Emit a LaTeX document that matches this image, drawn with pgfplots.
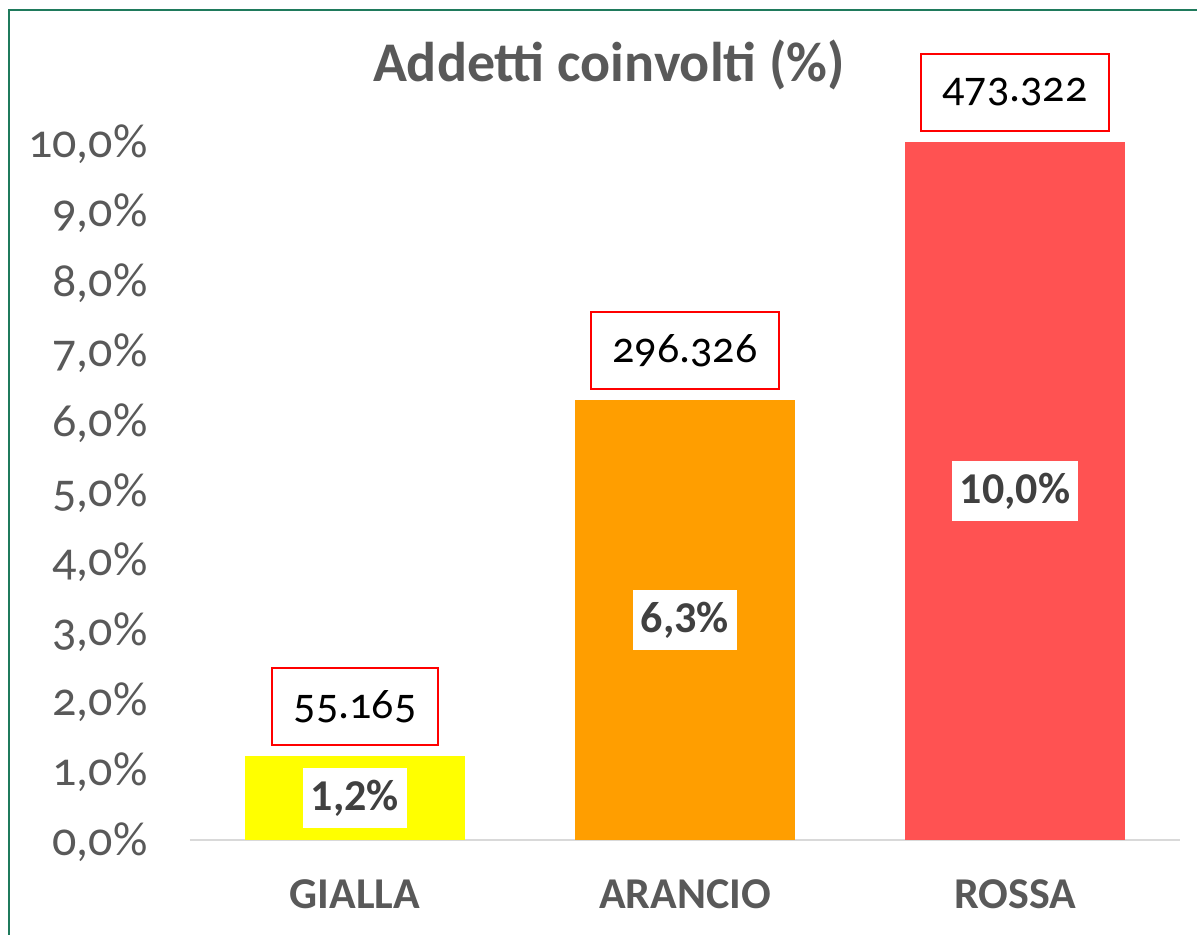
\documentclass[border=0pt]{standalone}
\usepackage{pgfplots}
\pgfplotsset{compat=1.18}
\usepackage{fontspec}
\setmainfont{Carlito}[Numbers=OldStyle]
\definecolor{txt}{HTML}{595959}
\definecolor{lbl}{HTML}{404040}
\definecolor{framec}{HTML}{1F7A5C}
\definecolor{cY}{HTML}{FFFF00}
\definecolor{cO}{HTML}{FF9E00}
\definecolor{cR}{HTML}{FF5252}
\definecolor{axgray}{HTML}{D9D9D9}
\pgfplotsset{
  topbox/.style={
    ybar, bar width=0.667, bar shift=0pt, draw=none,
    point meta=explicit symbolic,
    nodes near coords,
    nodes near coords style={draw=red, line width=1pt, fill=white, text=black,
      font=\fontsize{22}{26}\selectfont, minimum height=38.5pt, inner xsep=11pt,
      anchor=south, yshift=5pt},
  },
}
\begin{document}
\begin{tikzpicture}
\path[use as bounding box] (-95pt,-47pt) rectangle (503.5pt,420pt);
\draw[framec, line width=1.2pt] (-90.5pt,-60pt) -- (-90.5pt,415pt) -- (520pt,415pt);
\begin{axis}[
  at={(0pt,0pt)}, anchor=south west,
  scale only axis, width=495pt, height=349pt,
  xmin=-0.5, xmax=2.5, ymin=0, ymax=10,
  clip=false,
  axis x line=bottom, axis y line=left,
  x axis line style={draw=axgray, line width=1.3pt, -},
  y axis line style={draw=none},
  major tick length=0pt,
  xtick={0,1,2}, xticklabels={GIALLA,ARANCIO,ROSSA},
  xticklabel style={anchor=base, yshift=-34pt, inner sep=0pt,
    font=\fontsize{22}{26}\selectfont\bfseries, text=txt},
  ytick={0,1,2,3,4,5,6,7,8,9,10},
  yticklabels={{0,0\%},{1,0\%},{2,0\%},{3,0\%},{4,0\%},{5,0\%},{6,0\%},{7,0\%},{8,0\%},{9,0\%},{10,0\%}},
  yticklabel style={anchor=base east, inner sep=0pt, xshift=-21pt, yshift=-7.5pt,
    font=\fontsize{24}{28}\selectfont, text=txt},
  title={Addetti coinvolti (\%)},
  title style={at={(rel axis cs:0.4232,1.0688)}, anchor=base, inner sep=0pt,
    font=\fontsize{28}{32}\selectfont\bfseries, text=txt},
  /pgf/number format/assume math mode=true,
]
\addplot[topbox, fill=cY] coordinates {(0,1.2) [55.165]};
\addplot[topbox, fill=cO] coordinates {(1,6.3) [296.326]};
\addplot[topbox, fill=cR] coordinates {(2,10.0) [473.322]};
\addplot[draw=none, mark=none, point meta=y,
  visualization depends on={rawy \as \ry},
  nodes near coords={\pgfmathprintnumber[fixed,fixed zerofill,precision=1,use comma]{\pgfplotspointmeta}\%},
  nodes near coords style={anchor=center, fill=white, text=lbl, inner xsep=4pt,
    minimum height=30pt, font=\fontsize{22}{26}\selectfont\bfseries\addfontfeatures{Numbers=Lining},
    yshift={-\ry*17.45pt}}]
  coordinates {(0,1.2) (1,6.3) (2,10.0)};
\end{axis}
\end{tikzpicture}
\end{document}
